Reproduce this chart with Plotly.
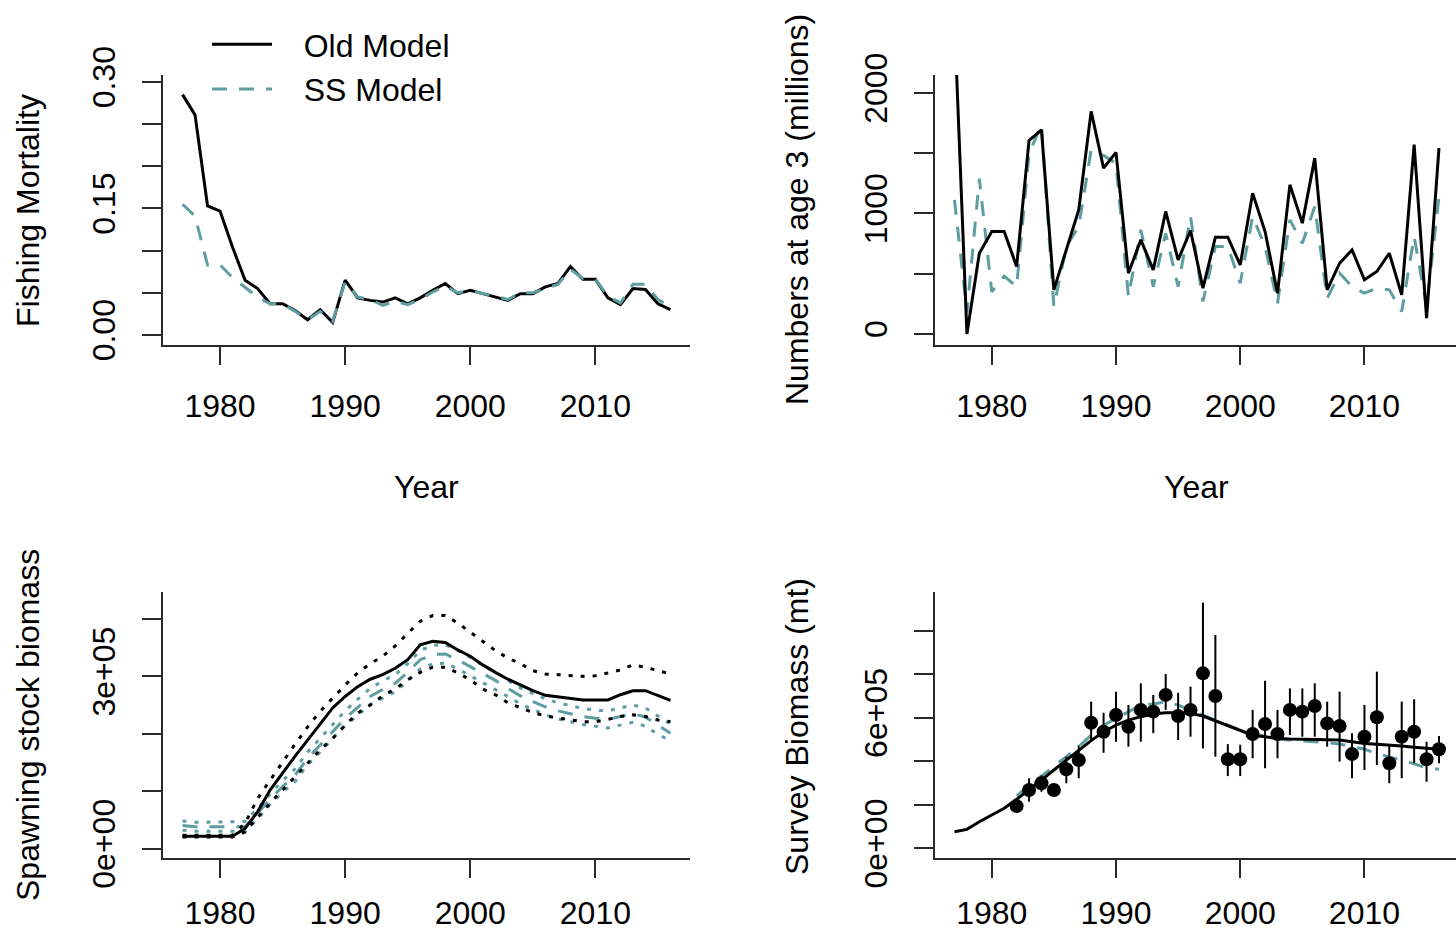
import plotly.graph_objects as go

# ---------------- data ----------------
years = list(range(1977, 2017))

# Fishing mortality
f_old = [0.285, 0.261, 0.153, 0.147, 0.104, 0.065, 0.055, 0.037, 0.037, 0.029,
         0.018, 0.030, 0.015, 0.065, 0.044, 0.041, 0.039, 0.044, 0.037, 0.044,
         0.053, 0.061, 0.049, 0.053, 0.049, 0.045, 0.041, 0.049, 0.049, 0.057,
         0.061, 0.081, 0.066, 0.066, 0.044, 0.036, 0.055, 0.054, 0.037, 0.030]
f_ss = [0.155, 0.141, 0.083, 0.083, 0.068, 0.057, 0.045, 0.037, 0.037, 0.028,
        0.018, 0.028, 0.016, 0.063, 0.045, 0.042, 0.035, 0.040, 0.036, 0.042,
        0.051, 0.058, 0.050, 0.053, 0.049, 0.046, 0.042, 0.050, 0.050, 0.055,
        0.060, 0.078, 0.067, 0.066, 0.046, 0.038, 0.060, 0.060, 0.042, 0.033]

# Numbers at age 3 (millions)
n3_old = [2600, 0, 670, 850, 850, 560, 1607, 1695, 366, 698,
          1030, 1848, 1377, 1507, 504, 781, 532, 1017, 615, 859,
          380, 803, 803, 573, 1169, 850, 338, 1238, 920, 1460,
          366, 587, 698, 449, 518, 670, 324, 1571, 130, 1543]
n3_ss = [1113, 180, 1290, 350, 480, 393, 1501, 1737, 227, 726,
         892, 1529, 1480, 1418, 310, 864, 393, 836, 393, 975,
         269, 726, 726, 421, 975, 726, 255, 947, 753, 1058,
         296, 504, 393, 338, 380, 366, 186, 809, 227, 1141]

# Spawning stock biomass
ssb_old = [21500, 21500, 21500, 21500, 21500, 35000, 64000, 102000, 132000, 161000,
           189000, 218000, 245000, 265000, 282000, 295000, 303000, 314000, 329000, 355000,
           361000, 359000, 346000, 335000, 320000, 307000, 295000, 285000, 275000, 267000,
           264000, 261000, 259000, 259000, 259000, 268000, 275000, 275000, 266000, 258000]
ssb_old_hi = [23000, 23000, 23000, 23000, 23000, 44000, 87000, 119000, 151000, 182000,
              212000, 239000, 262000, 285000, 306000, 322000, 335000, 353000, 375000, 396000,
              406000, 406000, 393000, 377000, 361000, 345000, 332000, 322000, 310000, 304000,
              303000, 302000, 300000, 301000, 306000, 311000, 320000, 316000, 310000, 304000]
ssb_old_lo = [20000, 20000, 20000, 20000, 20000, 29000, 55000, 79000, 102000, 125000,
              148000, 172000, 192000, 215000, 236000, 250000, 266000, 278000, 294000, 307000,
              316000, 316000, 306000, 294000, 278000, 268000, 254000, 246000, 237000, 231000,
              227000, 224000, 221000, 221000, 225000, 230000, 233000, 230000, 224000, 221000]
ssb_ss = [40000, 38000, 38000, 38000, 38000, 38000, 61000, 86000, 108000, 128000,
          157000, 180000, 204000, 227000, 246000, 265000, 277000, 288000, 307000, 329000,
          338000, 339000, 329000, 317000, 304000, 293000, 279000, 266000, 256000, 247000,
          240000, 235000, 230000, 227000, 225000, 230000, 235000, 229000, 215000, 201000]
ssb_ss_hi = [48000, 46000, 46000, 46000, 46000, 47000, 70000, 95000, 118000, 139000,
             168000, 192000, 216000, 240000, 260000, 279000, 292000, 303000, 322000, 345000,
             354000, 355000, 345000, 333000, 319000, 308000, 293000, 280000, 270000, 261000,
             254000, 249000, 244000, 241000, 240000, 245000, 250000, 245000, 231000, 217000]
ssb_ss_lo = [32000, 30000, 30000, 30000, 30000, 30000, 52000, 77000, 98000, 117000,
             146000, 168000, 192000, 214000, 232000, 251000, 262000, 273000, 292000, 313000,
             322000, 323000, 313000, 301000, 289000, 278000, 265000, 252000, 242000, 233000,
             226000, 221000, 216000, 213000, 210000, 215000, 220000, 213000, 199000, 188000]

# Survey biomass (mt)
surv_fit_old = [76500, 87000, 122000, 153000, 184000, 225000, 268000, 314000, 360000, 406000,
                452000, 495000, 536000, 566000, 589000, 605000, 617000, 623000, 623000, 620000,
                608000, 586000, 566000, 543000, 520000, 513000, 505000, 502000, 501000, 501000,
                501000, 498000, 490000, 482000, 478000, 475000, 470000, 464000, 459000, 455000]
surv_years = list(range(1982, 2017))
surv_fit_ss = [240000, 291000, 332000, 375000, 421000, 467000, 520000, 566000, 597000, 628000,
               658000, 663000, 674000, 658000, 635000, 612000, 586000, 566000, 543000, 525000,
               513000, 504000, 498000, 495000, 490000, 485000, 479000, 467000, 455000, 436000,
               421000, 406000, 388000, 370000, 363000]
surv_obs = [194000, 268000, 299000, 268000, 363000, 406000, 577000, 536000, 613000, 559000,
            636000, 628000, 705000, 608000, 636000, 804000, 700000, 409000, 409000, 525000,
            571000, 525000, 636000, 628000, 654000, 574000, 562000, 433000, 513000, 602000,
            391000, 513000, 536000, 409000, 455000]
surv_hi = [225000, 322000, 335000, 295000, 421000, 473000, 674000, 623000, 720000, 659000,
           758000, 705000, 801000, 715000, 743000, 1129000, 980000, 479000, 476000, 636000,
           770000, 636000, 735000, 735000, 758000, 674000, 720000, 529000, 659000, 812000,
           470000, 674000, 685000, 490000, 516000]
surv_lo = [165000, 214000, 260000, 240000, 299000, 322000, 490000, 439000, 490000, 467000,
           490000, 529000, 636000, 498000, 513000, 459000, 421000, 332000, 332000, 414000,
           368000, 414000, 521000, 513000, 513000, 467000, 398000, 322000, 360000, 383000,
           299000, 322000, 391000, 306000, 391000]

x_ticks = [1980, 1990, 2000, 2010]
f_ticks = [0.0, 0.05, 0.10, 0.15, 0.20, 0.25, 0.30]
f_ticktext = ["0.00", "", "", "0.15", "", "", "0.30"]
n_ticks = [0, 500, 1000, 1500, 2000]
n_ticktext = ["0", "", "1000", "", "2000"]
ssb_ticks = [0, 100000, 200000, 300000, 400000]
ssb_ticktext = ["0e+00", "", "", "3e+05", ""]
sv_ticks = [0, 200000, 400000, 600000, 800000, 1000000]
sv_ticktext = ["0e+00", "", "", "6e+05", "", ""]

# ---------------- styling ----------------
W, H = 1456, 935
FONT = "Liberation Sans, Arial, sans-serif"
FS = 32
BLACK = "black"
TEAL = "#5F9EA0"
DASH = "15px,12px"
DOT = "4px,8px"
AXC = "#2a2a2a"
PAD = "\u00a0\u00a0\u00a0"


def px_x(a, b):
    return [a / W, min(b / W, 1.0)]


def px_y(top, bottom):
    return [1 - bottom / H, 1 - top / H]


fig = go.Figure()

# top-left: fishing mortality
fig.add_trace(go.Scatter(x=years, y=f_old, mode="lines", name=PAD + "Old Model",
                         line=dict(color=BLACK, width=3), xaxis="x", yaxis="y"))
fig.add_trace(go.Scatter(x=years, y=f_ss, mode="lines", name=PAD + "SS Model",
                         line=dict(color=TEAL, width=3, dash=DASH), xaxis="x", yaxis="y"))

# top-right: numbers at age 3
fig.add_trace(go.Scatter(x=years, y=n3_ss, mode="lines", showlegend=False,
                         line=dict(color=TEAL, width=3, dash=DASH), xaxis="x2", yaxis="y2"))
fig.add_trace(go.Scatter(x=years, y=n3_old, mode="lines", showlegend=False,
                         line=dict(color=BLACK, width=3), xaxis="x2", yaxis="y2"))

# bottom-left: SSB
for ys, col, dash in [(ssb_ss_hi, TEAL, DOT), (ssb_ss_lo, TEAL, DOT),
                      (ssb_ss, TEAL, DASH),
                      (ssb_old_hi, BLACK, DOT), (ssb_old_lo, BLACK, DOT),
                      (ssb_old, BLACK, "solid")]:
    fig.add_trace(go.Scatter(x=years, y=ys, mode="lines", showlegend=False,
                             line=dict(color=col, width=3, dash=dash),
                             xaxis="x3", yaxis="y3"))

# bottom-right: survey biomass
fig.add_trace(go.Scatter(x=surv_years, y=surv_fit_ss, mode="lines", showlegend=False,
                         line=dict(color=TEAL, width=3, dash=DASH), xaxis="x4", yaxis="y4"))
fig.add_trace(go.Scatter(x=years, y=surv_fit_old, mode="lines", showlegend=False,
                         line=dict(color=BLACK, width=3), xaxis="x4", yaxis="y4"))
fig.add_trace(go.Scatter(
    x=surv_years, y=surv_obs, mode="markers", showlegend=False,
    marker=dict(color=BLACK, size=14, symbol="circle"),
    error_y=dict(type="data", symmetric=False,
                 array=[h - v for h, v in zip(surv_hi, surv_obs)],
                 arrayminus=[v - l for l, v in zip(surv_lo, surv_obs)],
                 color=BLACK, thickness=2, width=0),
    xaxis="x4", yaxis="y4"))

common_x = dict(showline=True, linecolor=AXC, linewidth=2, ticks="outside", ticklen=18,
                tickwidth=2, tickcolor=AXC, showgrid=False, zeroline=False,
                tickvals=x_ticks, ticktext=[str(t) for t in x_ticks],
                tickfont=dict(family=FONT, size=FS, color="black"),
                ticklabelstandoff=14, mirror=False)
bottom_x = dict(common_x, ticklabelstandoff=8)
common_y = dict(showline=True, linecolor=AXC, linewidth=2, ticks="outside", ticklen=19,
                tickwidth=2, tickcolor=AXC, showgrid=False, zeroline=False,
                tickangle=-90, tickfont=dict(family=FONT, size=FS, color="black"),
                ticklabelstandoff=14, mirror=False)

LX = px_x(163, 690)
RX = px_x(935, 1456)
TY = px_y(75, 345)
BY = px_y(592, 858)

fig.update_layout(
    width=W, height=H, margin=dict(l=0, r=0, t=0, b=0, autoexpand=False),
    paper_bgcolor="white", plot_bgcolor="white",
    font=dict(family=FONT, size=FS, color="black"),
    xaxis=dict(common_x, domain=LX, range=[1975.44, 2017.56], anchor="y"),
    yaxis=dict(common_y, domain=TY, range=[-0.0119, 0.3083], anchor="x",
               tickvals=f_ticks, ticktext=f_ticktext),
    xaxis2=dict(common_x, domain=RX, range=[1975.43, 2017.37], anchor="y2"),
    yaxis2=dict(common_y, domain=TY, range=[-92, 2150], anchor="x2",
                tickvals=n_ticks, ticktext=n_ticktext),
    xaxis3=dict(bottom_x, domain=LX, range=[1975.44, 2017.56], anchor="y3"),
    yaxis3=dict(common_y, domain=BY, range=[-16500, 447000], anchor="x3",
                tickvals=ssb_ticks, ticktext=ssb_ticktext),
    xaxis4=dict(bottom_x, domain=RX, range=[1975.43, 2017.37], anchor="y4"),
    yaxis4=dict(common_y, domain=BY, range=[-44600, 1178000], anchor="x4",
                tickvals=sv_ticks, ticktext=sv_ticktext),
    legend=dict(x=207 / W, y=1 - 17 / H, xanchor="left", yanchor="top",
                bgcolor="rgba(0,0,0,0)", borderwidth=0, itemwidth=60,
                font=dict(family=FONT, size=FS, color="black"), tracegroupgap=0),
    showlegend=True,
)

titles = [
    ("Fishing Mortality", 28, 211, -90),
    ("Numbers at age 3 (millions)", 797, 210, -90),
    ("Spawning stock biomass", 28, 725, -90),
    ("Survey Biomass (mt)", 797, 727, -90),
    ("Year", 426, 487, 0),
    ("Year", 1196, 487, 0),
]
for txt, xp, yp, ang in titles:
    fig.add_annotation(text=txt, x=xp / W, y=1 - yp / H, xref="paper", yref="paper",
                       showarrow=False, textangle=ang, xanchor="center", yanchor="middle",
                       font=dict(family=FONT, size=FS, color="black"))

fig.write_html("out.html", config={"displayModeBar": False},
               post_script="document.body.style.margin='0px';")
